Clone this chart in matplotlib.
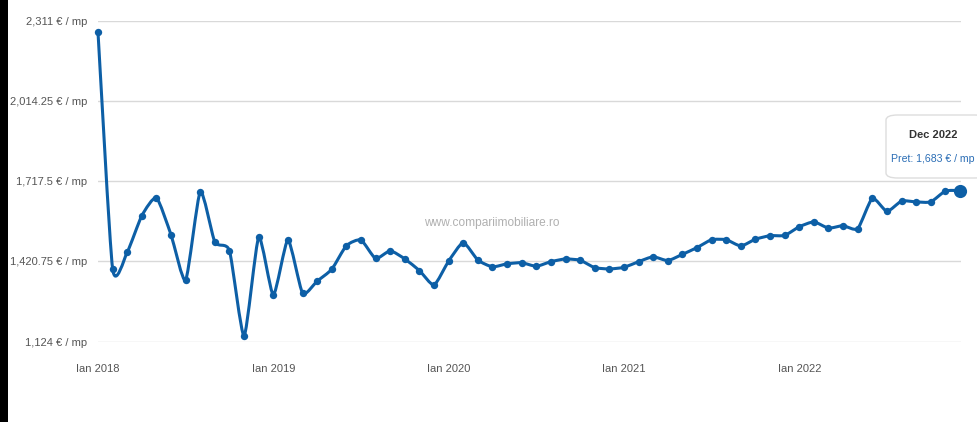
import numpy as np
import matplotlib
matplotlib.use("Agg")
import matplotlib.pyplot as plt
from matplotlib.path import Path
from matplotlib.patches import PathPatch, FancyBboxPatch, Rectangle

plt.rcParams['font.family'] = ['Liberation Sans', 'DejaVu Sans']

months = [f"{m} {y}" for y in range(2018, 2023) for m in
          ["Ian", "Feb", "Mar", "Apr", "Mai", "Iun", "Iul", "Aug", "Sep", "Oct", "Noi", "Dec"]]
prices = [2268, 1394, 1455, 1590, 1656, 1519, 1352, 1679, 1492, 1460, 1146, 1510,
          1297, 1500, 1304, 1348, 1392, 1479, 1500, 1432, 1460, 1430, 1387, 1334,
          1422, 1490, 1426, 1401, 1412, 1416, 1403, 1420, 1430, 1425, 1398, 1393,
          1399, 1420, 1438, 1424, 1447, 1472, 1501, 1501, 1478, 1503, 1516, 1517,
          1549, 1567, 1544, 1553, 1542, 1654, 1606, 1644, 1641, 1641, 1681, 1683]
ytick_vals = [1124, 1420.75, 1717.5, 2014.25, 2311]
ytick_labels = ["1,124 € / mp", "1,420.75 € / mp", "1,717.5 € / mp", "2,014.25 € / mp", "2,311 € / mp"]
xtick_pos = [0, 12, 24, 36, 48]
xtick_labels = ["Ian 2018", "Ian 2019", "Ian 2020", "Ian 2021", "Ian 2022"]
tip_title = "Dec 2022"
tip_text = "Pret: 1,683 € / mp"

fs = 8.0

W, H = 977, 422
fig = plt.figure(figsize=(W / 100, H / 100), dpi=100)
ax = fig.add_axes([98 / W, 1 - 341.7 / H, (961 - 98) / W, (341.7 - 20.7) / H])
ax.set_xlim(0, 59.07)
ax.set_ylim(ytick_vals[0], ytick_vals[-1])

color = '#0d5fa6'
x = np.arange(len(prices), dtype=float)
y = np.array(prices, dtype=float)

# smooth curve (cardinal-type bezier)
f = 0.1
verts = [(x[0], y[0])]
codes = [Path.MOVETO]
n = len(x)
def tang(i):
    a = max(i - 1, 0)
    b = min(i + 1, n - 1)
    return (x[b] - x[a]), (y[b] - y[a])
for i in range(n - 1):
    tx0, ty0 = tang(i)
    tx1, ty1 = tang(i + 1)
    verts += [(x[i] + f * tx0, y[i] + f * ty0),
              (x[i + 1] - f * tx1, y[i + 1] - f * ty1),
              (x[i + 1], y[i + 1])]
    codes += [Path.CURVE4, Path.CURVE4, Path.CURVE4]
ax.add_patch(PathPatch(Path(verts, codes), fill=False, edgecolor=color, lw=2.2,
                       capstyle='round', joinstyle='round', zorder=3, clip_on=False))
ax.plot(x[:-1], y[:-1], 'o', color=color, ms=5.3, mew=0, zorder=4, clip_on=False)
ax.plot(x[-1:], y[-1:], 'o', color=color, ms=9.5, mew=0, zorder=5, clip_on=False)

for v in ytick_vals:
    ax.axhline(v, color='#d9d9d9', lw=1, zorder=1)
for s in ax.spines.values():
    s.set_visible(False)
ax.set_yticks(ytick_vals)
ax.set_yticklabels(ytick_labels)
ax.set_xticks(xtick_pos)
ax.set_xticklabels(xtick_labels)
ax.tick_params(length=0, labelsize=fs, colors='#555555', pad=8)
ax.tick_params(axis='x', pad=16)

ax.text((492 - 98) / 863, 0.37, "www.compariimobiliare.ro", transform=ax.transAxes, ha='center',
        va='center', fontsize=8.6, color='#b0b0b0', zorder=2)

# tooltip
tip = FancyBboxPatch((886 / W, 1 - 178 / H), 100 / W, 63 / H,
                     boxstyle="round,pad=0,rounding_size=0.012",
                     transform=fig.transFigure, facecolor='white', edgecolor='#dddddd',
                     lw=1, zorder=10)
fig.patches.append(tip)
fig.text(933 / W, 1 - 135 / H, tip_title, ha='center', va='center', fontsize=fs,
         fontweight='bold', color='#333333', zorder=11)
fig.text(891 / W, 1 - 159 / H, tip_text, ha='left', va='center', fontsize=7.6,
         color='#2a6db5', zorder=11)

fig.patches.append(Rectangle((0, 0), 8 / W, 1, transform=fig.transFigure,
                             facecolor='black', edgecolor='none', zorder=12))

fig.savefig("out.png", dpi=100)
